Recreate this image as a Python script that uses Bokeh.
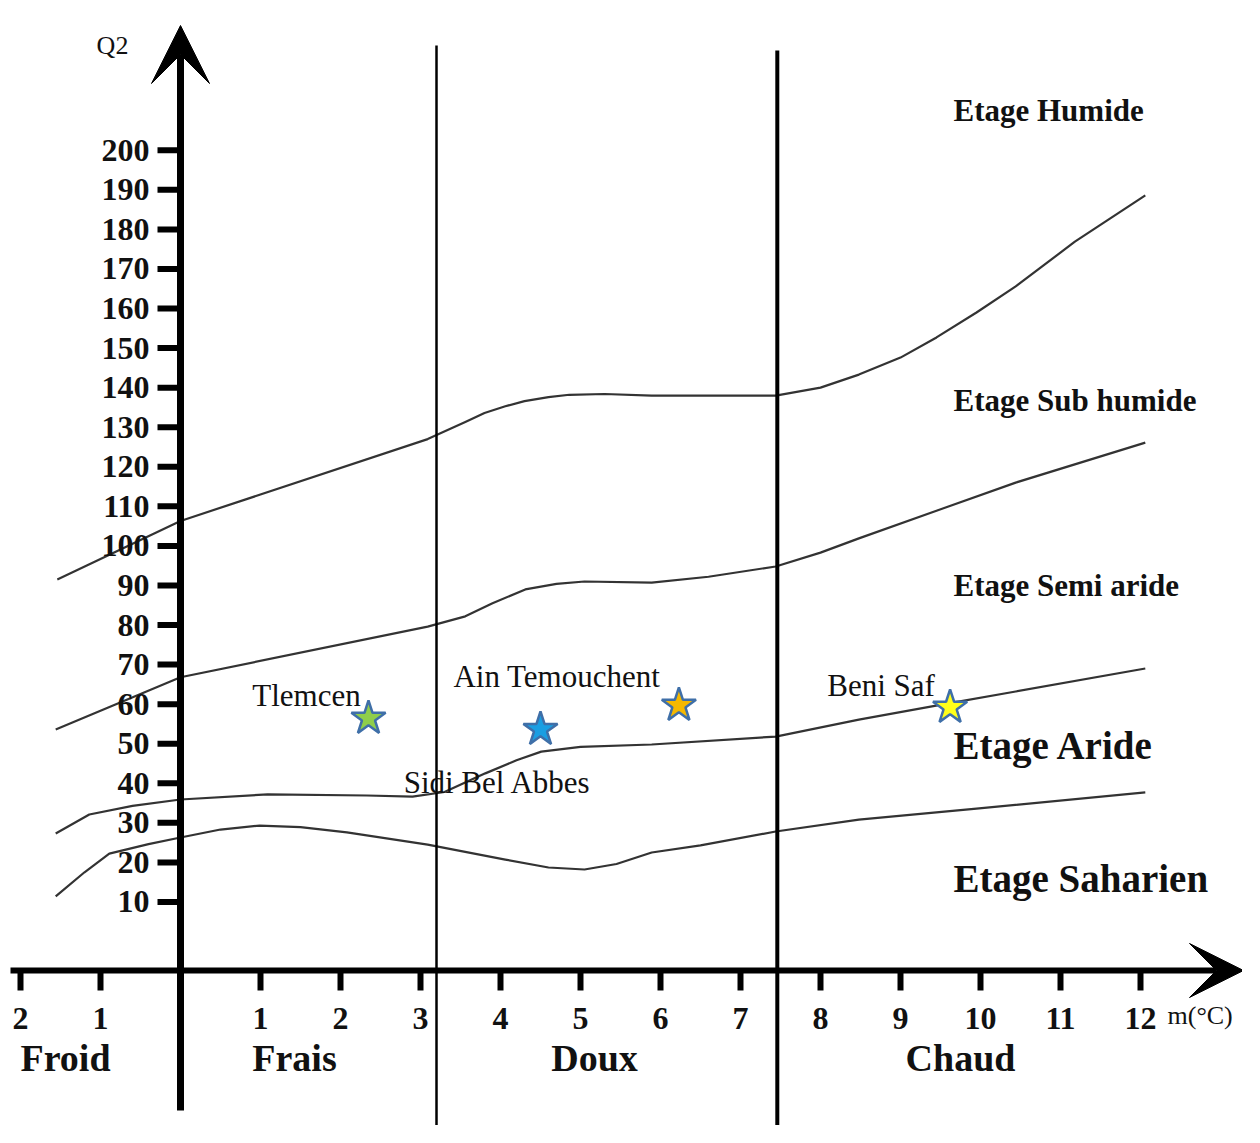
from bokeh.plotting import figure
from bokeh.models import Arrow, VeeHead, ColumnDataSource, Range1d
from bokeh.core.properties import value
from bokeh.embed import file_html
from bokeh.resources import INLINE

# ---------------- data ----------------
Q2_TICKS = [10, 20, 30, 40, 50, 60, 70, 80, 90, 100, 110, 120, 130, 140, 150, 160, 170, 180, 190, 200]
M_TICKS = [-2, -1, 1, 2, 3, 4, 5, 6, 7, 8, 9, 10, 11, 12]
M_TICK_LABELS = ["2", "1", "1", "2", "3", "4", "5", "6", "7", "8", "9", "10", "11", "12"]

THERMAL_CLASSES = ["Froid", "Frais", "Doux", "Chaud"]
THERMAL_LIMITS = [3.2, 7.46]

STAGES = ["Etage Humide", "Etage Sub humide", "Etage Semi aride", "Etage Aride", "Etage Saharien"]

# limit Humide / Sub humide
HUM_M = [-1.54, 0, 3.09, 3.56, 3.8, 4.06, 4.3, 4.6, 4.86, 5.3, 5.89, 7.44, 8.0, 8.48, 9.0, 9.45, 9.95,
         10.44, 11.18, 12.06]
HUM_Q2 = [91.5, 106.3, 127.0, 131.3, 133.6, 135.3, 136.6, 137.6, 138.2, 138.4, 138.0, 138.0, 140.0,
          143.3, 147.6, 152.7, 159.0, 165.6, 176.9, 188.6]
# limit Sub humide / Semi aride
SUB_M = [-1.56, 0, 3.09, 3.56, 3.9, 4.31, 4.7, 5.05, 5.89, 6.6, 7.44, 8.0, 8.48, 9.45, 10.44, 12.06]
SUB_Q2 = [53.6, 66.8, 79.6, 82.2, 85.5, 89.0, 90.4, 91.0, 90.7, 92.2, 94.8, 98.3, 101.9, 108.9, 116.0, 126.1]
# limit Semi aride / Aride
SEMI_M = [-1.56, -1.14, -0.6, 0, 1.09, 2.33, 2.9, 3.3, 3.81, 4.2, 4.51, 5.0, 5.89, 7.44, 8.48, 9.6,
          10.44, 12.06]
SEMI_Q2 = [27.3, 32.1, 34.3, 35.9, 37.2, 36.9, 36.6, 37.8, 42.5, 45.8, 48.0, 49.2, 49.8, 51.8, 56.1, 60.2,
           63.2, 69.0]
# limit Aride / Saharien
ARI_M = [-1.56, -1.2, -0.89, -0.4, 0, 0.5, 0.99, 1.5, 2.08, 3.09, 4.06, 4.6, 5.05, 5.45, 5.89, 6.5, 7.44,
         8.48, 9.95, 12.06]
ARI_Q2 = [11.4, 17.5, 22.2, 24.6, 26.3, 28.3, 29.3, 28.9, 27.6, 24.5, 20.7, 18.7, 18.2, 19.6, 22.5, 24.3,
          27.8, 30.8, 33.6, 37.7]

STATIONS = ["Tlemcen", "Sidi Bel Abbes", "Ain Temouchent", "Beni Saf"]
STATION_M = [2.35, 4.5, 6.23, 9.62]
STATION_Q2 = [56.4, 53.6, 59.7, 59.2]

# ---------------- layout / style ----------------
PLOT_W, PLOT_H = 1242, 1125
PX_X = 80.0          # px per degree
PX_Y = 3.956         # px per Q2 unit
ORIGIN_SX, ORIGIN_SY = 180, 941   # px of (0,0) inside the plot
X_AXIS_Q2 = -7.33


def sx(px):
    return (px - ORIGIN_SX) / PX_X


def sy(py):
    return (ORIGIN_SY - py) / PX_Y


x0, x1 = sx(0), sx(PLOT_W)
y0, y1 = sy(PLOT_H), sy(0)

p = figure(width=PLOT_W, height=PLOT_H, x_range=Range1d(x0, x1), y_range=Range1d(y0, y1),
           x_axis_type=None, y_axis_type=None, toolbar_location=None, output_backend="svg",
           min_border=0, outline_line_color=None, background_fill_color="white",
           border_fill_color="white")
p.xgrid.visible = False
p.ygrid.visible = False

SERIF = value("Liberation Serif")
CURVE_COLOR = "#333333"
TXT = "#111111"

for xs, ys in [(HUM_M, HUM_Q2), (SUB_M, SUB_Q2), (SEMI_M, SEMI_Q2), (ARI_M, ARI_Q2)]:
    p.line(xs, ys, line_color=CURVE_COLOR, line_width=2.2, line_join="round")

# thermal limits (vertical lines)
p.segment(x0=[THERMAL_LIMITS[0]], y0=[sy(45)], x1=[THERMAL_LIMITS[0]], y1=[y0 - 10],
          line_color="black", line_width=2.5)
p.segment(x0=[THERMAL_LIMITS[1]], y0=[sy(50)], x1=[THERMAL_LIMITS[1]], y1=[y0 - 10],
          line_color="black", line_width=4)

# axes with arrows
p.add_layout(Arrow(x_start=0, y_start=sy(1110), x_end=0, y_end=sy(25), line_width=7, line_color="black",
                   end=VeeHead(size=58, fill_color="black", line_color="black", line_width=1)))
p.add_layout(Arrow(x_start=sx(10), y_start=X_AXIS_Q2, x_end=sx(1243), y_end=X_AXIS_Q2, line_width=6,
                   line_color="black",
                   end=VeeHead(size=54, fill_color="black", line_color="black", line_width=1)))

# y ticks
tick_len_x = 23 / PX_X
p.segment(x0=[0] * len(Q2_TICKS), y0=Q2_TICKS, x1=[-tick_len_x] * len(Q2_TICKS), y1=Q2_TICKS,
          line_color="black", line_width=6)
p.text(x=[0] * len(Q2_TICKS), y=Q2_TICKS, text=[str(v) for v in Q2_TICKS], x_offset=-31,
       text_align="right", text_baseline="middle", text_font=SERIF, text_font_style="bold",
       text_font_size="32px", text_color=TXT)

# x ticks
tick_len_y = 20 / PX_Y
p.segment(x0=M_TICKS, y0=[X_AXIS_Q2] * len(M_TICKS), x1=M_TICKS, y1=[X_AXIS_Q2 - tick_len_y] * len(M_TICKS),
          line_color="black", line_width=6)
p.text(x=M_TICKS, y=[X_AXIS_Q2] * len(M_TICKS), text=M_TICK_LABELS, y_offset=48,
       text_align="center", text_baseline="middle", text_font=SERIF, text_font_style="bold",
       text_font_size="32px", text_color=TXT)

# thermal class labels
CLASS_X = [sx(65), sx(294), sx(594), sx(960)]
p.text(x=CLASS_X, y=[X_AXIS_Q2] * 4, text=THERMAL_CLASSES, y_offset=88,
       text_align="center", text_baseline="middle", text_font=SERIF, text_font_style="bold",
       text_font_size="38px", text_color=TXT)

# axis titles
p.text(x=[sx(112)], y=[sy(45)], text=["Q2"], text_align="center",
       text_baseline="middle", text_font=SERIF, text_font_size="26px", text_color=TXT)
p.text(x=[sx(1167)], y=[X_AXIS_Q2], text=["m(°C)"], y_offset=45, text_align="left",
       text_baseline="middle", text_font=SERIF, text_font_size="26px", text_color=TXT)

# stage labels
STAGE_X = sx(953)
STAGE_Y = [sy(110), sy(400), sy(585), sy(745), sy(878)]
STAGE_SIZE = ["31px", "31px", "31px", "39px", "39px"]
for name, yy, fs in zip(STAGES, STAGE_Y, STAGE_SIZE):
    p.text(x=[STAGE_X], y=[yy], text=[name], text_align="left", text_baseline="middle",
           text_font=SERIF, text_font_style="bold", text_font_size=fs, text_color=TXT)

# stations
src = ColumnDataSource(dict(
    m=STATION_M, q2=STATION_Q2, name=STATIONS,
    fill=["#8fce4a", "#1a9ee2", "#f5b800", "#ffff1a"],
    dx=[-62, -43, -122, -69], dy=[-23, 53, -29, -22],
))
p.scatter("m", "q2", source=src, marker="star", size=36, fill_color="fill",
          line_color="#3f6fa8", line_width=2.5)
p.text("m", "q2", text="name", source=src, x_offset="dx", y_offset="dy", text_align="center",
       text_baseline="middle", text_font=SERIF, text_font_size="31px", text_color=TXT)

open("out.html", "w").write(file_html(p, INLINE))
